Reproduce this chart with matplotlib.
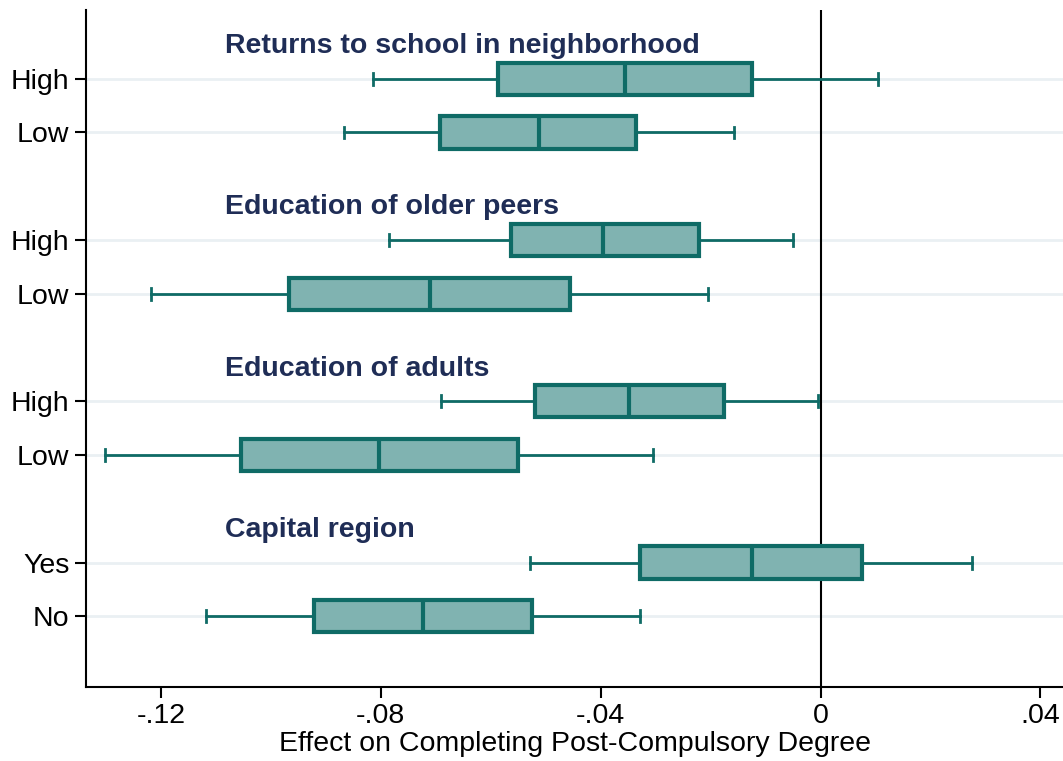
import matplotlib.pyplot as plt

plt.rcParams['font.family'] = ['Liberation Sans', 'DejaVu Sans']

# groups and their two rows (top to bottom)
groups = ['Returns to school in neighborhood', 'Education of older peers',
          'Education of adults', 'Capital region']
row_labels = ['High', 'Low', 'High', 'Low', 'High', 'Low', 'Yes', 'No']

# whisker low, q1, median, q3, whisker high
wlo = [-0.0815, -0.0867, -0.0785, -0.1218, -0.0691, -0.1302, -0.0529, -0.1118]
q1 = [-0.0587, -0.0693, -0.0564, -0.0967, -0.0520, -0.1055, -0.0329, -0.0922]
med = [-0.0355, -0.0513, -0.0395, -0.0711, -0.0349, -0.0804, -0.0125, -0.0724]
q3 = [-0.0124, -0.0336, -0.0222, -0.0455, -0.0176, -0.0551, 0.0075, -0.0525]
whi = [0.0105, -0.0158, -0.0051, -0.0205, -0.0004, -0.0304, 0.0275, -0.0329]

xticks = [-0.12, -0.08, -0.04, 0, 0.04]
xticklabels = ['-.12', '-.08', '-.04', '0', '.04']

edge = '#0f6b66'
fill = '#80b3b1'
title_col = '#1f2d56'
fs = 20.5

ypos = []
for g in range(len(groups)):
    ypos += [g * 3, g * 3 + 1]

stats = []
for i in range(len(row_labels)):
    stats.append(dict(whislo=wlo[i], q1=q1[i], med=med[i], q3=q3[i], whishi=whi[i], fliers=[]))

fig = plt.figure(figsize=(10.63, 7.61), dpi=100)
ax = fig.add_axes([0.081, 0.0975, 0.919, 0.8895])

for y in ypos:
    ax.axhline(y, color='#eaf0f3', lw=2, zorder=0)

ax.bxp(stats, positions=ypos, vert=False, widths=0.6, capwidths=0.22,
       patch_artist=True, showfliers=False,
       boxprops=dict(facecolor=fill, edgecolor=edge, linewidth=3),
       medianprops=dict(color=edge, linewidth=3),
       whiskerprops=dict(color=edge, linewidth=2),
       capprops=dict(color=edge, linewidth=2))

ax.axvline(0, color='black', lw=1.5, zorder=1)

for g, name in enumerate(groups):
    ax.text(-0.1083, g * 3 - 0.61, name, color=title_col, fontsize=fs,
            fontweight='bold', ha='left', va='center')

ax.set_ylim(3 * len(groups) - 2 + 1.31, -1.28)
ax.set_xlim(-0.1336, 0.0441)
ax.set_yticks(ypos)
ax.set_yticklabels(row_labels, fontsize=fs)
ax.set_xticks(xticks)
ax.set_xticklabels(xticklabels, fontsize=fs)
ax.tick_params(axis='both', length=8, width=1.5, color='black', pad=4)
ax.set_xlabel('Effect on Completing Post-Compulsory Degree', fontsize=fs, labelpad=1)

for s in ['top', 'right']:
    ax.spines[s].set_visible(False)
for s in ['left', 'bottom']:
    ax.spines[s].set_linewidth(1.5)

fig.savefig('out.png', dpi=100)
